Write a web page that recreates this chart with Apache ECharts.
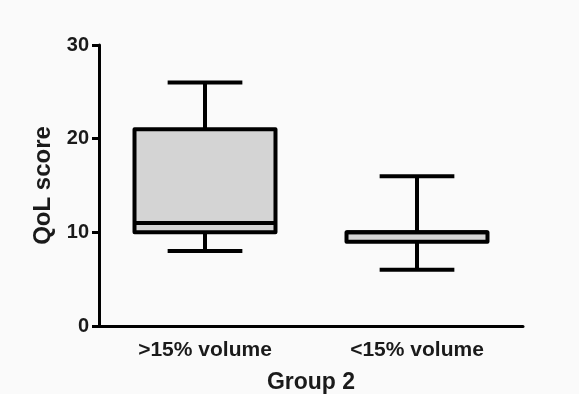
<!DOCTYPE html>
<html>
<head>
<meta charset="utf-8">
<script src="https://cdn.jsdelivr.net/npm/echarts@6/dist/echarts.min.js"></script>
<style>
html,body{margin:0;padding:0;background:#fafafa;}
#chart{width:579px;height:394px;}
</style>
</head>
<body>
<div id="chart"></div>
<script>
var categories = ['>15% volume', '<15% volume'];
// min, q1, median, q3, max
var boxMin = [8, 6];
var boxQ1 = [10, 9];
var boxMedian = [11, 10];
var boxQ3 = [21, 10];
var boxMax = [26, 16];
var yTicks = [0, 10, 20, 30];

var data = [];
for (var i = 0; i < categories.length; i++) {
    data.push([i, boxMin[i], boxQ1[i], boxMedian[i], boxQ3[i], boxMax[i]]);
}

function renderBox(params, api) {
    var x = api.value(0);
    var pMin = api.coord([x, api.value(1)]);
    var pQ1 = api.coord([x, api.value(2)]);
    var pMed = api.coord([x, api.value(3)]);
    var pQ3 = api.coord([x, api.value(4)]);
    var pMax = api.coord([x, api.value(5)]);
    var band = api.size([1, 0])[0];
    var boxW = band * 0.665;
    var capW = boxW * 0.53;
    var cx = pMed[0];
    var lineStyle = {stroke: '#000', lineWidth: 4, lineCap: 'butt'};
    return {
        type: 'group',
        children: [
            {type: 'line', shape: {x1: cx, y1: pQ3[1], x2: cx, y2: pMax[1]}, style: lineStyle},
            {type: 'line', shape: {x1: cx, y1: pQ1[1], x2: cx, y2: pMin[1]}, style: lineStyle},
            {type: 'line', shape: {x1: cx - capW / 2, y1: pMax[1], x2: cx + capW / 2, y2: pMax[1]}, style: lineStyle},
            {type: 'line', shape: {x1: cx - capW / 2, y1: pMin[1], x2: cx + capW / 2, y2: pMin[1]}, style: lineStyle},
            {type: 'rect', shape: {x: cx - boxW / 2, y: pQ3[1], width: boxW, height: pQ1[1] - pQ3[1]},
                style: {fill: '#d4d4d4', stroke: '#000', lineWidth: 4, lineJoin: 'round'}},
            {type: 'line', shape: {x1: cx - boxW / 2, y1: pMed[1], x2: cx + boxW / 2, y2: pMed[1]}, style: lineStyle}
        ]
    };
}

var myChart = echarts.init(document.getElementById('chart'));
var option = {
    backgroundColor: '#fafafa',
    animation: false,
    grid: {left: 99, right: 56, top: 45, bottom: 68, containLabel: false, outerBoundsMode: 'none'},
    xAxis: {
        type: 'category',
        data: categories,
        name: 'Group 2',
        nameLocation: 'middle',
        nameGap: 45,
        nameTextStyle: {fontFamily: 'Liberation Sans', fontWeight: 'bold', fontSize: 23, color: '#1a1a1a'},
        axisLine: {lineStyle: {color: '#000', width: 3}},
        axisTick: {alignWithLabel: true, length: 6, lineStyle: {color: '#000', width: 3}},
        axisLabel: {fontFamily: 'Liberation Sans', fontWeight: 'bold', fontSize: 21, color: '#1a1a1a', margin: 14}
    },
    yAxis: {
        type: 'value',
        min: yTicks[0],
        max: yTicks[yTicks.length - 1],
        interval: 10,
        name: 'QoL score',
        nameLocation: 'middle',
        nameGap: 43,
        nameTextStyle: {fontFamily: 'Liberation Sans', fontWeight: 'bold', fontSize: 24, color: '#1a1a1a'},
        axisLine: {show: true, lineStyle: {color: '#000', width: 3}},
        axisTick: {show: true, length: 7, lineStyle: {color: '#000', width: 3}},
        axisLabel: {fontFamily: 'Liberation Sans', fontWeight: 'bold', fontSize: 20, color: '#1a1a1a', margin: 10},
        splitLine: {show: false}
    },
    series: [{
        type: 'custom',
        renderItem: renderBox,
        encode: {x: 0, y: [1, 2, 3, 4, 5]},
        data: data
    }]
};
myChart.setOption(option);
</script>
</body>
</html>
